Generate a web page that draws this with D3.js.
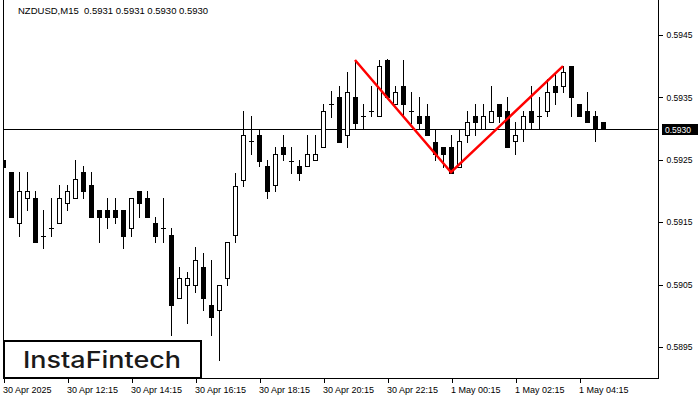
<!DOCTYPE html>
<html>
<head>
<meta charset="utf-8">
<script src="https://cdn.jsdelivr.net/npm/d3@7"></script>
<style>
  html, body { margin: 0; padding: 0; background: #fff; }
  svg { display: block; }
</style>
</head>
<body>
<script>
// ---- data (15-minute NZDUSD candles, 30 Apr 10:15 -> 1 May 05:00) ----
const opens = [0.59249,0.59230,0.59149,0.59189,0.59189,0.59128,0.59140,0.59149,0.59180,0.59189,
0.59230,0.59209,0.59169,0.59169,0.59169,0.59169,0.59140,0.59200,0.59189,0.59149,
0.59140,0.59129,0.59029,0.59049,0.59049,0.59079,0.59018,0.59009,0.59060,0.59129,
0.59218,0.59280,0.59289,0.59240,0.59209,0.59270,0.59248,0.59240,0.59240,0.59249,
0.59270,0.59340,0.59350,0.59289,0.59350,0.59320,0.59329,0.59320,0.59410,0.59340,
0.59369,0.59329,0.59320,0.59320,0.59279,0.59270,0.59270,0.59238,0.59289,0.59320,
0.59300,0.59310,0.59340,0.59329,0.59280,0.59300,0.59329,0.59320,0.59329,0.59369,
0.59369,0.59400,0.59340,0.59329,0.59320,0.59310];
const highs = [0.59289,0.59230,0.59230,0.59230,0.59200,0.59169,0.59189,0.59209,0.59209,0.59249,
0.59240,0.59230,0.59169,0.59189,0.59189,0.59169,0.59189,0.59200,0.59200,0.59158,
0.59189,0.59141,0.59079,0.59070,0.59110,0.59100,0.59089,0.59049,0.59118,0.59229,
0.59329,0.59320,0.59298,0.59249,0.59270,0.59289,0.59270,0.59249,0.59289,0.59289,
0.59340,0.59360,0.59369,0.59390,0.59410,0.59340,0.59369,0.59410,0.59412,0.59369,
0.59410,0.59359,0.59350,0.59340,0.59300,0.59270,0.59289,0.59300,0.59329,0.59340,
0.59340,0.59369,0.59340,0.59350,0.59310,0.59329,0.59369,0.59350,0.59380,0.59390,
0.59400,0.59400,0.59340,0.59359,0.59329,0.59310];
const lows = [0.59228,0.59158,0.59128,0.59169,0.59118,0.59109,0.59128,0.59149,0.59169,0.59189,
0.59189,0.59158,0.59118,0.59140,0.59149,0.59109,0.59128,0.59158,0.59158,0.59118,
0.59118,0.58969,0.59029,0.58989,0.59038,0.59009,0.58969,0.58929,0.59049,0.59118,
0.59208,0.59260,0.59240,0.59189,0.59200,0.59249,0.59229,0.59218,0.59240,0.59249,
0.59270,0.59319,0.59279,0.59270,0.59300,0.59300,0.59320,0.59320,0.59350,0.59340,
0.59320,0.59309,0.59300,0.59289,0.59249,0.59238,0.59229,0.59238,0.59279,0.59289,
0.59300,0.59310,0.59310,0.59270,0.59260,0.59280,0.59300,0.59300,0.59320,0.59340,
0.59359,0.59320,0.59320,0.59310,0.59280,0.59300];
const closes = [0.59238,0.59158,0.59200,0.59200,0.59118,0.59128,0.59140,0.59189,0.59200,0.59219,
0.59200,0.59158,0.59158,0.59158,0.59158,0.59128,0.59189,0.59180,0.59158,0.59128,
0.59140,0.59018,0.59060,0.59060,0.59089,0.59029,0.58998,0.59049,0.59118,0.59208,
0.59289,0.59280,0.59248,0.59200,0.59260,0.59260,0.59248,0.59229,0.59260,0.59260,
0.59329,0.59340,0.59279,0.59359,0.59309,0.59320,0.59329,0.59400,0.59350,0.59359,
0.59340,0.59329,0.59309,0.59289,0.59260,0.59260,0.59229,0.59280,0.59310,0.59310,
0.59320,0.59329,0.59320,0.59270,0.59289,0.59320,0.59310,0.59320,0.59359,0.59359,
0.59390,0.59350,0.59320,0.59310,0.59300,0.59300];

const timeTickIdx = [0, 8, 16, 24, 32, 40, 48, 56, 64, 72];
const timeTickLabels = ["30 Apr 2025","30 Apr 12:15","30 Apr 14:15","30 Apr 16:15","30 Apr 18:15",
  "30 Apr 20:15","30 Apr 22:15","1 May 00:15","1 May 02:15","1 May 04:15"];
const priceTicks = [0.5895, 0.5905, 0.5915, 0.5925, 0.5935, 0.5945];
const currentPrice = 0.5930;
const titleText = "NZDUSD,M15  0.5931 0.5931 0.5930 0.5930";

// double-top pattern (red lines)
const patternIdx = [44, 56, 70];
const patternPrice = [0.59410, 0.59230, 0.59400];

// ---- layout ----
const W = 700, H = 400;
const plotL = 3, plotR = 658, plotT = 0, plotB = 378;

const svg = d3.select("body").append("svg")
  .attr("width", W).attr("height", H)
  .style("font-family", "'Liberation Sans', Arial, sans-serif");

svg.append("rect").attr("width", W).attr("height", H).attr("fill", "#fff");

const x = d3.scaleLinear().domain([0, 75]).range([3, 603]);
const y = d3.scaleLinear().domain([0.5895, 0.5945]).range([347, 35]);

svg.append("clipPath").attr("id", "plotclip")
  .append("rect").attr("x", plotL).attr("y", plotT)
  .attr("width", plotR - plotL).attr("height", plotB - plotT);

const plot = svg.append("g").attr("clip-path", "url(#plotclip)")
  .attr("shape-rendering", "crispEdges");

// current price line
plot.append("line")
  .attr("x1", plotL).attr("x2", plotR)
  .attr("y1", Math.round(y(currentPrice)) + 0.5).attr("y2", Math.round(y(currentPrice)) + 0.5)
  .attr("stroke", "#000").attr("stroke-width", 1);

const data = opens.map((o, i) => ({ i, o, h: highs[i], l: lows[i], c: closes[i] }));

const cg = plot.selectAll("g.candle").data(data).join("g").attr("class", "candle");

// wicks
cg.append("rect")
  .attr("x", d => Math.round(x(d.i)))
  .attr("width", 1)
  .attr("y", d => Math.round(y(d.h)))
  .attr("height", d => Math.max(1, Math.round(y(d.l)) - Math.round(y(d.h)) + 1))
  .attr("fill", "#000");

// bodies (outer black)
cg.append("rect")
  .attr("x", d => Math.round(x(d.i)) - 2)
  .attr("width", 5)
  .attr("y", d => Math.round(y(Math.max(d.o, d.c))))
  .attr("height", d => Math.max(1, Math.round(y(Math.min(d.o, d.c))) - Math.round(y(Math.max(d.o, d.c))) + 1))
  .attr("fill", "#000");

// bullish inner white
cg.filter(d => d.c > d.o && (Math.round(y(d.o)) - Math.round(y(d.c))) >= 2)
  .append("rect")
  .attr("x", d => Math.round(x(d.i)) - 1)
  .attr("width", 3)
  .attr("y", d => Math.round(y(d.c)) + 1)
  .attr("height", d => Math.round(y(d.o)) - Math.round(y(d.c)) - 1)
  .attr("fill", "#fff");

// pattern line
const line = d3.line().x(d => x(d[0])).y(d => y(d[1]));
svg.append("path")
  .datum(patternIdx.map((v, k) => [v, patternPrice[k]]))
  .attr("d", line)
  .attr("fill", "none")
  .attr("stroke", "#ff0000")
  .attr("stroke-width", 2.5)
  .attr("stroke-linejoin", "miter");

// frame
const frame = svg.append("g").attr("shape-rendering", "crispEdges");
frame.append("line").attr("x1", plotL + 0.5).attr("x2", plotL + 0.5).attr("y1", 0).attr("y2", plotB + 1).attr("stroke", "#000");
frame.append("line").attr("x1", plotR + 0.5).attr("x2", plotR + 0.5).attr("y1", 0).attr("y2", plotB + 1).attr("stroke", "#000");
frame.append("line").attr("x1", plotL).attr("x2", plotR + 1).attr("y1", plotB + 0.5).attr("y2", plotB + 0.5).attr("stroke", "#000");

// x axis
const xAxis = d3.axisBottom(x)
  .tickValues(timeTickIdx)
  .tickSize(4)
  .tickFormat((d, k) => timeTickLabels[k]);
const xg = svg.append("g").attr("transform", `translate(0.5,${plotB + 1})`).call(xAxis);
xg.select(".domain").remove();
xg.selectAll(".tick line").attr("stroke", "#000").attr("shape-rendering", "crispEdges");
xg.selectAll(".tick text")
  .attr("text-anchor", "start")
  .attr("x", -1)
  .attr("y", 8)
  .attr("dy", "0.71em")
  .attr("fill", "#000")
  .style("font-size", "9px")
  .style("font-family", "'Liberation Sans', Arial, sans-serif");

// y axis
const yAxis = d3.axisRight(y)
  .tickValues(priceTicks)
  .tickSize(4)
  .tickPadding(4)
  .tickFormat(d3.format(".4f"));
const yg = svg.append("g").attr("transform", `translate(${plotR + 0.5},0)`).call(yAxis);
yg.select(".domain").remove();
yg.selectAll(".tick line").attr("stroke", "#000").attr("shape-rendering", "crispEdges");
yg.selectAll(".tick text")
  .attr("fill", "#000")
  .style("font-size", "8.5px")
  .style("font-family", "'Liberation Sans', Arial, sans-serif");

// current price label
const cy = Math.round(y(currentPrice));
svg.append("rect")
  .attr("x", 662).attr("y", cy - 5).attr("width", 36).attr("height", 11)
  .attr("fill", "#000").attr("shape-rendering", "crispEdges");
svg.append("text")
  .attr("x", 665).attr("y", cy + 3.5)
  .attr("fill", "#fff")
  .style("font-size", "8.5px")
  .text(d3.format(".4f")(currentPrice));

// title
svg.append("text")
  .attr("x", 18).attr("y", 13.5)
  .attr("fill", "#000")
  .style("font-size", "9.5px")
  .attr("xml:space", "preserve")
  .style("white-space", "pre")
  .text(titleText);

// logo
svg.append("rect")
  .attr("x", 4).attr("y", 341).attr("width", 197).attr("height", 37)
  .attr("fill", "#fff").attr("stroke", "#000").attr("stroke-width", 2);
svg.append("text")
  .attr("x", 23).attr("y", 367.5)
  .attr("fill", "#1a1a1a")
  .style("font-family", "Inter, 'Noto Sans', sans-serif")
  .style("font-weight", "500")
  .style("font-size", "23px")
  .attr("textLength", 158)
  .attr("lengthAdjust", "spacingAndGlyphs")
  .text("InstaFintech");
</script>
</body>
</html>
